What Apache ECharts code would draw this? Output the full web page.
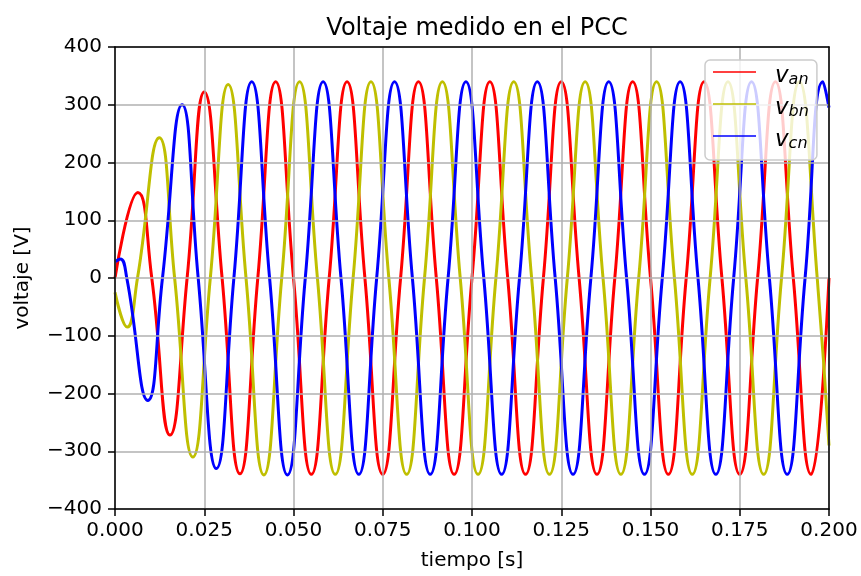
<!DOCTYPE html>
<html>
<head>
<meta charset="utf-8">
<script src="https://cdn.jsdelivr.net/npm/echarts@6/dist/echarts.min.js"></script>
<style>
html,body{margin:0;padding:0;background:#fff;}
#c{width:861px;height:576px;}
</style>
</head>
<body>
<div id="c"></div>
<script>
// ---- data (time in s, voltage in V): extrema and zero crossings ----
var titleText = 'Voltaje medido en el PCC';
var xName = 'tiempo [s]';
var yName = 'voltaje [V]';
var xTicks = [0, 0.025, 0.05, 0.075, 0.1, 0.125, 0.15, 0.175, 0.2];
var yTicks = [-400, -300, -200, -100, 0, 100, 200, 300, 400];
var seriesNames = ['v_an', 'v_bn', 'v_cn'];

var vanT = [0, 0.0064, 0.0103, 0.0154, 0.0202, 0.025, 0.030, 0.035, 0.040, 0.045, 0.050, 0.055, 0.060, 0.065, 0.070, 0.075, 0.080, 0.085, 0.090, 0.095, 0.100, 0.105, 0.110, 0.115, 0.120, 0.125, 0.130, 0.135, 0.140, 0.145, 0.150, 0.155, 0.160, 0.165, 0.170, 0.175, 0.180, 0.185, 0.190, 0.195, 0.200];
var vanV = [0, 148, 0, -272, 0, 322, 0, -339, 0, 340, 0, -340, 0, 340, 0, -340, 0, 340, 0, -340, 0, 340, 0, -340, 0, 340, 0, -340, 0, 340, 0, -340, 0, 340, 0, -340, 0, 340, 0, -340, 0];

var vbnT = [0, 0.0034, 0.0063, 0.0124, 0.0167, 0.0218, 0.0267, 0.0317, 0.0367, 0.0417, 0.0467, 0.0517, 0.0567, 0.0617, 0.0667, 0.0717, 0.0767, 0.0817, 0.0867, 0.0917, 0.0967, 0.1017, 0.1067, 0.1117, 0.1167, 0.1217, 0.1267, 0.1317, 0.1367, 0.1417, 0.1467, 0.1517, 0.1567, 0.1617, 0.1667, 0.1717, 0.1767, 0.1817, 0.1867, 0.1917, 0.1967, 0.200];
var vbnV = [-25, -85, 0, 243, 0, -310, 0, 335, 0, -341, 0, 340, 0, -340, 0, 340, 0, -340, 0, 340, 0, -340, 0, 340, 0, -340, 0, 340, 0, -340, 0, 340, 0, -340, 0, 340, 0, -340, 0, 340, 0, -290];

var vcnT = [0, 0.0015, 0.0033, 0.0092, 0.0133, 0.0188, 0.0233, 0.0284, 0.0333, 0.0383, 0.0433, 0.0483, 0.0533, 0.0583, 0.0633, 0.0683, 0.0733, 0.0783, 0.0833, 0.0883, 0.0933, 0.0983, 0.1033, 0.1083, 0.1133, 0.1183, 0.1233, 0.1283, 0.1333, 0.1383, 0.1433, 0.1483, 0.1533, 0.1583, 0.1633, 0.1683, 0.1733, 0.1783, 0.1833, 0.1883, 0.1933, 0.1983, 0.200];
var vcnV = [28, 33, 0, -212, 0, 300, 0, -330, 0, 340, 0, -341, 0, 340, 0, -340, 0, 340, 0, -340, 0, 340, 0, -340, 0, 340, 0, -340, 0, 340, 0, -340, 0, 340, 0, -340, 0, 340, 0, -340, 0, 340, 295];

var colors = ['#ff0000', '#bfbf00', '#0000ff'];

function pairs(t, v) { return t.map(function (x, i) { return [x, v[i]]; }); }

var FONT = 'DejaVu Sans';
var chart = echarts.init(document.getElementById('c'), null, { renderer: 'canvas' });

var dataSets = [pairs(vanT, vanV), pairs(vbnT, vbnV), pairs(vcnT, vcnV)];

var xMin = xTicks[0], xMax = xTicks[xTicks.length - 1];
var yMin = yTicks[0], yMax = yTicks[yTicks.length - 1];

chart.setOption({
  animation: false,
  backgroundColor: '#ffffff',
  title: {
    text: titleText,
    left: 472,
    top: 12,
    textAlign: 'center',
    textStyle: { fontFamily: FONT, fontSize: 24, fontWeight: 'normal', color: '#000' }
  },
  grid: { left: 115, right: 32, top: 47, bottom: 65 },
  legend: {
    orient: 'vertical',
    left: 705, top: 60,
    padding: [5, 8, 8, 8],
    itemGap: 9,
    itemWidth: 43,
    itemHeight: 1.5,
    icon: 'rect',
    backgroundColor: 'rgba(255,255,255,0.8)',
    borderColor: '#cccccc',
    borderWidth: 1.5,
    borderRadius: 5,
    z: 20,
    data: seriesNames,
    formatter: function (name) { return '{v|v}{s|' + name.slice(2) + '}'; },
    textStyle: {
      padding: [0, 0, 0, 14],
      rich: {
        v: { fontFamily: FONT, fontSize: 23, fontStyle: 'italic', color: '#000', lineHeight: 32, verticalAlign: 'bottom' },
        s: { fontFamily: FONT, fontSize: 16, fontStyle: 'italic', color: '#000', lineHeight: 18, verticalAlign: 'bottom' }
      }
    }
  },
  xAxis: [{
    type: 'value',
    min: xMin, max: xMax, interval: 0.025,
    name: xName, nameLocation: 'middle', nameGap: 42,
    nameTextStyle: { fontFamily: FONT, fontSize: 20, color: '#000' },
    axisLine: { show: true, onZero: false, lineStyle: { color: '#000', width: 1.5 } },
    axisTick: { show: true, length: 7, lineStyle: { color: '#000', width: 1.5 } },
    axisLabel: { margin: 12, fontFamily: FONT, fontSize: 20, color: '#000',
      formatter: function (v) { return v.toFixed(3); } },
    splitLine: { show: true, lineStyle: { color: '#b0b0b0', width: 1.5 } },
    z: 10
  }, {
    type: 'value', position: 'top',
    min: xMin, max: xMax, interval: 0.025,
    axisLine: { show: true, onZero: false, lineStyle: { color: '#000', width: 1.5 } },
    axisTick: { show: false }, axisLabel: { show: false }, splitLine: { show: false },
    z: 10
  }],
  yAxis: [{
    type: 'value',
    min: yMin, max: yMax, interval: 100,
    name: yName, nameLocation: 'middle', nameGap: 82, nameRotate: 90,
    nameTextStyle: { fontFamily: FONT, fontSize: 20, color: '#000' },
    axisLine: { show: true, onZero: false, lineStyle: { color: '#000', width: 1.5 } },
    axisTick: { show: true, length: 7, lineStyle: { color: '#000', width: 1.5 } },
    axisLabel: { margin: 13, fontFamily: FONT, fontSize: 20, color: '#000',
      formatter: function (v) { return v < 0 ? '\u2212' + Math.abs(v) : String(v); } },
    splitLine: { show: true, lineStyle: { color: '#b0b0b0', width: 1.5 } },
    z: 10
  }, {
    type: 'value', position: 'right',
    min: yMin, max: yMax, interval: 100,
    axisLine: { show: true, onZero: false, lineStyle: { color: '#000', width: 1.5 } },
    axisTick: { show: false }, axisLabel: { show: false }, splitLine: { show: false },
    z: 10
  }],
  series: seriesNames.map(function (n, i) {
    return {
      name: n, type: 'line', data: dataSets[i],
      xAxisIndex: 0, yAxisIndex: 0,
      smooth: 0.5, showSymbol: false, symbol: 'none',
      lineStyle: { color: colors[i], width: 3 },
      itemStyle: { color: colors[i] },
      clip: true, z: 2 + i
    };
  })
});
</script>
</body>
</html>
